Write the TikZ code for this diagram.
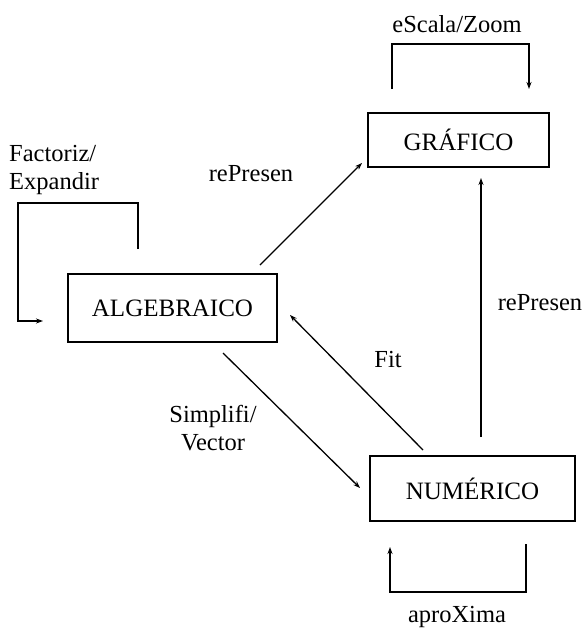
\documentclass[tikz,border=0pt]{standalone}
\usepackage{fontspec}
\setmainfont{Liberation Serif}
\usetikzlibrary{arrows.meta}
\begin{document}
\begin{tikzpicture}[x=1pt,y=-1pt,
  box/.style={draw,line width=1.3pt,inner sep=0pt,font=\fontsize{25}{29}\selectfont},
  lbl/.style={inner sep=0pt,font=\fontsize{24.5}{28}\selectfont,align=center},
  conn/.style={line width=1.3pt,-{Stealth[length=7pt,width=5pt]}},
  loop/.style={line width=1.3pt,-{Stealth[length=7pt,width=5pt]}}]
\path[use as bounding box,fill=white] (0,0) rectangle (586,629);
% boxes
\node[box,minimum width=181pt,minimum height=54pt] (G) at (458.5,140) {GRÁFICO};
\node[box,minimum width=209pt,minimum height=68pt] (A) at (172.5,308) {ALGEBRAICO};
\node[box,minimum width=205pt,minimum height=65pt] (N) at (472.5,488.5) {NUMÉRICO};
% connector end points
\coordinate (a1) at (260,265);
\coordinate (g1) at (362,163);
\coordinate (n1) at (481,437);
\coordinate (g2) at (481,178);
\coordinate (n2) at (423,450);
\coordinate (a2) at (290,315);
\coordinate (a3) at (223,353);
\coordinate (n3) at (360,488);
% loops
\coordinate (f1) at (138,249);
\coordinate (f2) at (43,321);
\coordinate (e1) at (392,89);
\coordinate (e2) at (529,89);
\coordinate (x1) at (526,544);
\coordinate (x2) at (390,547);
% connectors
\draw[conn] (a1) -- (g1);
\draw[conn] (n1) -- (g2);
\draw[conn] (n2) -- (a2);
\draw[conn] (a3) -- (n3);
\draw[loop] (f1) -- (138,203) -- (18,203) -- (18,321) -- (f2);
\draw[loop] (e1) -- (392,44) -- (529,44) -- (e2);
\draw[loop] (x1) -- (526,592) -- (390,592) -- (x2);
% labels
\node[lbl] (lz) at (457,24) {eScala/Zoom};
\node[lbl,align=left,anchor=west] (lf) at (9,170) {Factoriz/\\Expandir};
\node[lbl] (lr1) at (251,174) {rePresen};
\node[lbl] (lr2) at (540,303) {rePresen};
\node[lbl] (lfit) at (388,360) {Fit};
\node[lbl] (ls) at (213,428) {Simplifi/\\Vector};
\node[lbl] (la) at (457,617) {aproXima};
\end{tikzpicture}
\end{document}
